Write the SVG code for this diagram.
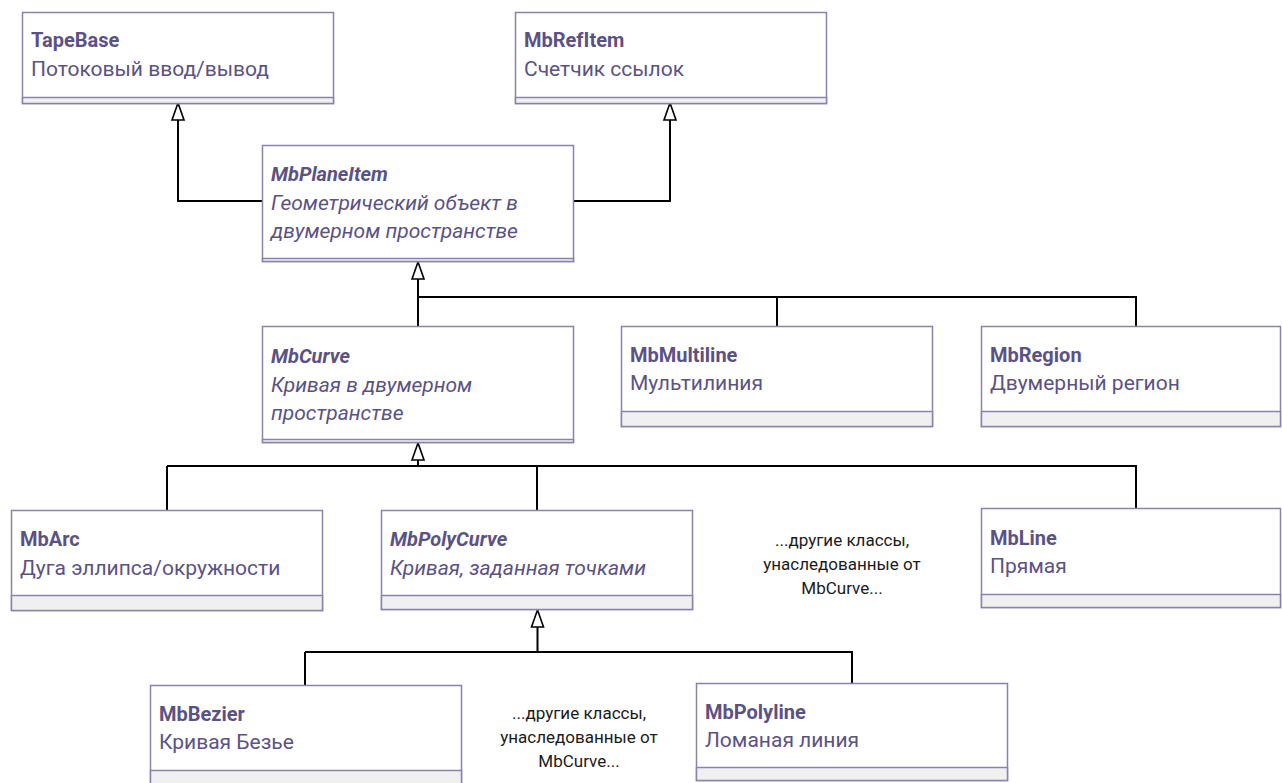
<svg xmlns="http://www.w3.org/2000/svg" width="1282" height="783" viewBox="0 0 1282 783">
<style>
.box{fill:#ffffff;stroke:#8a82ab;stroke-width:1.5}
.strip{fill:#f0f0f0;stroke:#8a82ab;stroke-width:1.5}
.t{font-family:Roboto,"Noto Sans",sans-serif;font-size:21px;fill:#5b5283}
.b{font-weight:bold;font-size:20px}
.i{font-style:italic}
.note{font-family:Roboto,"Noto Sans",sans-serif;font-size:17px;fill:#1a1a1a;text-anchor:middle}
.conn{fill:none;stroke:#000;stroke-width:2}
.arr{fill:#fff;stroke:#000;stroke-width:1.6}
</style>
<rect width="1282" height="783" fill="#fff"/>
<g id="connectors">
<path class="conn" d="M178 119 V201 H262"/>
<polygon class="arr" points="178,103 172,120 184,120"/>
<path class="conn" d="M670 119 V201 H574"/>
<polygon class="arr" points="670,103 664,120 676,120"/>
<path class="conn" d="M418 279 V327 M418 297 H1136 V327 M777 297 V327"/>
<polygon class="arr" points="418,262 412,279 424,279"/>
<path class="conn" d="M418 460 V466 M167 466 H1136 V508 M167 466 V511 M537 466 V511"/>
<polygon class="arr" points="418,443 412,460 424,460"/>
<path class="conn" d="M537.5 627 V652 M305 652 H852 V683 M305 652 V685"/>
<polygon class="arr" points="537.5,610 531.5,627 543.5,627"/>
</g>
<g id="TapeBase">
<rect class="box" x="22.5" y="12.5" width="311" height="91"/>
<rect class="strip" x="22.5" y="97.5" width="311" height="6"/>
<text class="t b" x="31" y="47">TapeBase</text>
<text class="t" x="31" y="76">Потоковый ввод/вывод</text>
</g>
<g id="MbRefItem">
<rect class="box" x="515.5" y="12.5" width="311" height="91"/>
<rect class="strip" x="515.5" y="97.5" width="311" height="6"/>
<text class="t b" x="524" y="47">MbRefItem</text>
<text class="t" x="524" y="76">Счетчик ссылок</text>
</g>
<g id="MbPlaneItem">
<rect class="box" x="262.5" y="145.5" width="311" height="116"/>
<rect class="strip" x="262.5" y="258.5" width="311" height="3"/>
<text class="t b i" x="271" y="181">MbPlaneItem</text>
<text class="t i" x="271" y="210">Геометрический объект в</text>
<text class="t i" x="271" y="238">двумерном пространстве</text>
</g>
<g id="MbCurve">
<rect class="box" x="262.5" y="326.5" width="311" height="116"/>
<rect class="strip" x="262.5" y="439.5" width="311" height="3"/>
<text class="t b i" x="271" y="363">MbCurve</text>
<text class="t i" x="271" y="392">Кривая в двумерном</text>
<text class="t i" x="271" y="420">пространстве</text>
</g>
<g id="MbMultiline">
<rect class="box" x="621.5" y="326.5" width="311" height="100"/>
<rect class="strip" x="621.5" y="411.5" width="311" height="15"/>
<text class="t b" x="630" y="362">MbMultiline</text>
<text class="t" x="630" y="390">Мультилиния</text>
</g>
<g id="MbRegion">
<rect class="box" x="981.5" y="326.5" width="299" height="100"/>
<rect class="strip" x="981.5" y="411.5" width="299" height="15"/>
<text class="t b" x="990" y="362">MbRegion</text>
<text class="t" x="990" y="390">Двумерный регион</text>
</g>
<g id="MbArc">
<rect class="box" x="11.5" y="510.5" width="311" height="100"/>
<rect class="strip" x="11.5" y="595.5" width="311" height="15"/>
<text class="t b" x="20" y="546">MbArc</text>
<text class="t" x="20" y="575">Дуга эллипса/окружности</text>
</g>
<g id="MbPolyCurve">
<rect class="box" x="381.5" y="510.5" width="311" height="99"/>
<rect class="strip" x="381.5" y="595.5" width="311" height="14"/>
<text class="t b i" x="390" y="546">MbPolyCurve</text>
<text class="t i" x="390" y="575">Кривая, заданная точками</text>
</g>
<g id="note1">
<text class="note" x="842" y="546">...другие классы,</text>
<text class="note" x="842" y="570">унаследованные от</text>
<text class="note" x="842" y="594">MbCurve...</text>
</g>
<g id="MbLine">
<rect class="box" x="981.5" y="508.5" width="299" height="99"/>
<rect class="strip" x="981.5" y="594.5" width="299" height="13"/>
<text class="t b" x="990" y="545">MbLine</text>
<text class="t" x="990" y="573">Прямая</text>
</g>
<g id="MbBezier">
<rect class="box" x="150.5" y="685.5" width="311" height="100"/>
<rect class="strip" x="150.5" y="770.5" width="311" height="15"/>
<text class="t b" x="159" y="721">MbBezier</text>
<text class="t" x="159" y="749">Кривая Безье</text>
</g>
<g id="note2">
<text class="note" x="579" y="719">...другие классы,</text>
<text class="note" x="579" y="743">унаследованные от</text>
<text class="note" x="579" y="767">MbCurve...</text>
</g>
<g id="MbPolyline">
<rect class="box" x="696.5" y="683.5" width="311" height="97"/>
<rect class="strip" x="696.5" y="767.5" width="311" height="13"/>
<text class="t b" x="705" y="719">MbPolyline</text>
<text class="t" x="705" y="747">Ломаная линия</text>
</g>
</svg>
